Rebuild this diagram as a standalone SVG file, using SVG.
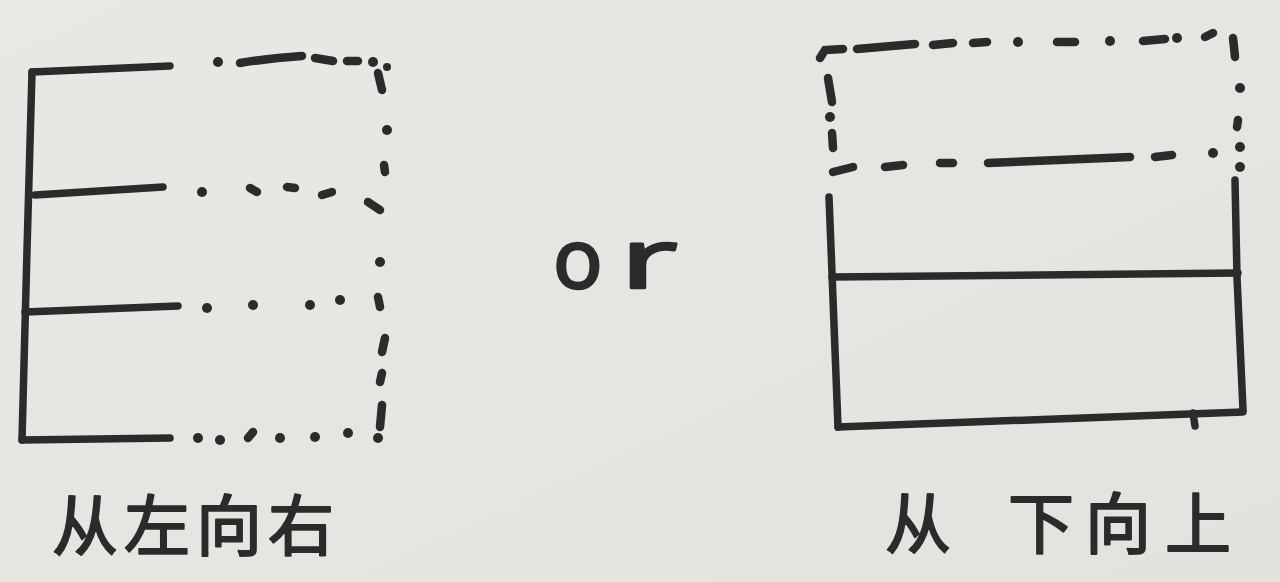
<svg xmlns="http://www.w3.org/2000/svg" width="1280" height="582" viewBox="0 0 1280 582">
  <defs>
    <linearGradient id="paper" x1="0" y1="0" x2="1" y2="1">
      <stop offset="0" stop-color="#e9e8e4"/>
      <stop offset="1" stop-color="#e3e2de"/>
    </linearGradient>
  </defs>
  <style>
    .ink { fill: none; stroke: #2a2c2c; stroke-width: 7.5; stroke-linecap: round; stroke-linejoin: round; }
    .dash { fill: none; stroke: #2a2c2c; stroke-width: 8.5; stroke-linecap: round; }
    .dot { fill: #2a2c2c; }
    .hand { font-family: "Noto Sans CJK SC", "Noto Sans", sans-serif; fill: #2a2c2c; stroke: #2a2c2c; stroke-width: 2; stroke-linejoin: round; font-size: 66px; font-weight: 400; }
    .latin { font-family: "Noto Sans", "DejaVu Sans", sans-serif; fill: #2a2c2c; stroke: #2a2c2c; stroke-width: 2.5; stroke-linejoin: round; font-size: 82px; font-weight: 400; }
  </style>
  <rect width="1280" height="582" fill="url(#paper)"/>

  <g id="left-figure">
    <g id="left-solid">
      <path class="ink" d="M32,72 L27,250 L22,440"/>
      <path class="ink" d="M32,72 L170,66"/>
      <path class="ink" d="M35,195 L163,187"/>
      <path class="ink" d="M25,312 L178,306"/>
      <path class="ink" d="M22,440 L170,438"/>
    </g>
    <g id="left-dashed">
      <circle class="dot" cx="218" cy="62" r="5"/>
      <path class="dash" d="M240,63 Q270,58 302,56"/>
      <path class="dash" d="M315,58 L333,61"/>
      <path class="dash" d="M347,61 L358,61"/>
      <circle class="dot" cx="373" cy="62" r="5"/>
      <path class="dash" d="M378,73 L382,90"/>
      <circle class="dot" cx="387" cy="67" r="4"/>
      <circle class="dot" cx="387" cy="130" r="5"/>
      <path class="dash" d="M384,165 L385,172"/>
      <path class="dash" d="M368,202 L380,210"/>
      <circle class="dot" cx="380" cy="262" r="5"/>
      <path class="dash" d="M378,297 L380,307"/>
      <path class="dash" d="M385,338 L382,352"/>
      <path class="dash" d="M382,373 L380,382"/>
      <path class="dash" d="M382,405 L380,427"/>
      <circle class="dot" cx="378" cy="438" r="5"/>
      <circle class="dot" cx="202" cy="192" r="5"/>
      <path class="dash" d="M250,188 L257,192"/>
      <path class="dash" d="M287,187 L295,188"/>
      <path class="dash" d="M322,195 L332,192"/>
      <circle class="dot" cx="207" cy="308" r="5"/>
      <circle class="dot" cx="253" cy="305" r="5"/>
      <circle class="dot" cx="310" cy="305" r="5"/>
      <circle class="dot" cx="340" cy="300" r="5"/>
      <circle class="dot" cx="198" cy="438" r="5"/>
      <circle class="dot" cx="220" cy="440" r="5"/>
      <path class="dash" d="M248,438 L253,432"/>
      <circle class="dot" cx="280" cy="438" r="5"/>
      <circle class="dot" cx="315" cy="437" r="5"/>
      <circle class="dot" cx="348" cy="433" r="5"/>
    </g>
  </g>

  <g id="or-label">
    <text class="latin" x="553" y="288">o</text>
    <text class="latin" transform="translate(620,288) scale(1.7,1)">r</text>
  </g>

  <g id="right-figure">
    <g id="right-solid">
      <path class="ink" d="M829,197 L832,273 L838,427"/>
      <path class="ink" d="M1235,180 L1237,277 L1243,410"/>
      <path class="ink" d="M832,277 L1238,273"/>
      <path class="ink" d="M838,427 L1243,412"/>
      <path class="ink" d="M1193,413 L1195,426"/>
    </g>
    <g id="right-dashed">
      <path class="dash" d="M820,58 L825,50 L843,49"/>
      <path class="dash" d="M857,49 L915,44"/>
      <path class="dash" d="M933,45 L953,43"/>
      <path class="dash" d="M973,43 L987,42"/>
      <circle class="dot" cx="1018" cy="42" r="5"/>
      <path class="dash" d="M1057,42 L1075,42"/>
      <circle class="dot" cx="1110" cy="41" r="5"/>
      <path class="dash" d="M1143,41 L1165,39"/>
      <circle class="dot" cx="1177" cy="38" r="5"/>
      <path class="dash" d="M1205,37 L1213,33"/>
      <path class="dash" d="M1233,38 L1235,57"/>
      <circle class="dot" cx="1240" cy="88" r="5"/>
      <path class="dash" d="M1238,120 L1237,127"/>
      <circle class="dot" cx="1240" cy="147" r="5"/>
      <circle class="dot" cx="1240" cy="167" r="5"/>
      <path class="dash" d="M828,78 L832,102"/>
      <circle class="dot" cx="830" cy="117" r="5"/>
      <path class="dash" d="M832,133 L833,148"/>
      <path class="dash" d="M833,172 L853,167"/>
      <path class="dash" d="M885,167 L903,165"/>
      <path class="dash" d="M940,163 L953,163"/>
      <path class="dash" d="M988,163 L1130,157"/>
      <path class="dash" d="M1155,157 L1172,155"/>
      <circle class="dot" cx="1213" cy="153" r="5"/>
    </g>
  </g>

  <g id="captions">
    <text class="hand" x="52" y="550" letter-spacing="6">从左向右</text>
    <text class="hand"><tspan x="885" y="548">从</tspan><tspan x="1008" y="548">下</tspan><tspan x="1085" y="548">向</tspan><tspan x="1165" y="548">上</tspan></text>
  </g>
</svg>
